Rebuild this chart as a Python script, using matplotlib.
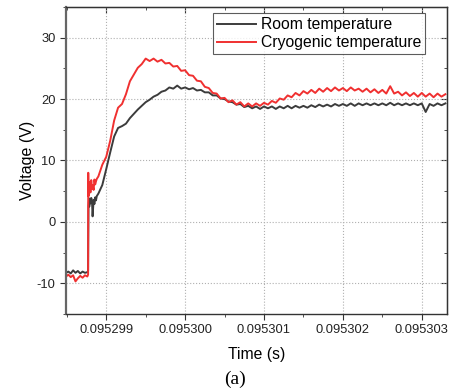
import numpy as np
import matplotlib
matplotlib.use("Agg")
import matplotlib.pyplot as plt
from matplotlib.ticker import MultipleLocator, FormatStrFormatter

# time is given in microseconds after t0 (seconds)
t0 = 0.095298

step_t = [0.49, 0.52, 0.55, 0.58, 0.61, 0.64, 0.67, 0.70, 0.73, 0.76,
          0.770, 0.772, 0.775, 0.780, 0.785, 0.79, 0.80, 0.81, 0.82, 0.827,
          0.84, 0.85, 0.86, 0.87, 0.88]
step_red = [-8.9, -8.6, -9.0, -8.7, -9.7, -9.2, -8.8, -9.1, -8.7, -8.9,
            -8.6, 8.0, 4.2, 6.5, 5.0, 6.3, 4.8, 6.8, 5.4, 6.0,
            5.2, 6.9, 6.1, 6.6, 7.0]
step_black = [-8.3, -8.1, -8.4, -7.9, -8.3, -8.0, -8.4, -8.1, -8.3, -8.2,
              -8.0, -3.0, 2.6, 3.3, 2.5, 3.8, 3.0, 3.9, 3.2, 0.9,
              3.6, 2.9, 4.0, 3.5, 4.2]

main_t = [0.90, 0.95, 1.00, 1.05, 1.10, 1.15, 1.20, 1.25, 1.30, 1.35,
          1.40, 1.45, 1.50, 1.55, 1.60, 1.65, 1.70, 1.75, 1.80, 1.85,
          1.90, 1.95, 2.00, 2.05, 2.10, 2.15, 2.20, 2.25, 2.30, 2.35,
          2.40, 2.45, 2.50, 2.55, 2.60, 2.65, 2.70, 2.75, 2.80, 2.85,
          2.90, 2.95, 3.00, 3.05, 3.10, 3.15, 3.20, 3.25, 3.30, 3.35,
          3.40, 3.45, 3.50, 3.55, 3.60, 3.65, 3.70, 3.75, 3.80, 3.85,
          3.90, 3.95, 4.00, 4.05, 4.10, 4.15, 4.20, 4.25, 4.30, 4.35,
          4.40, 4.45, 4.50, 4.55, 4.60, 4.65, 4.70, 4.75, 4.80, 4.85,
          4.90, 4.95, 5.00, 5.05, 5.10, 5.15, 5.20, 5.25, 5.30]
main_red = [7.4, 9.3, 10.6, 13.2, 16.5, 18.6, 19.2, 20.8, 22.9, 24.0,
            25.1, 25.7, 26.6, 26.2, 26.6, 26.1, 26.4, 25.8, 25.9, 25.3,
            25.4, 24.6, 24.7, 23.9, 23.8, 23.0, 22.9, 22.0, 21.8, 21.0,
            20.9, 20.1, 20.2, 19.5, 19.8, 19.1, 19.5, 18.8, 19.3, 18.8,
            19.3, 18.9, 19.4, 19.1, 19.7, 19.4, 20.1, 19.9, 20.6, 20.3,
            21.0, 20.6, 21.3, 20.9, 21.5, 21.0, 21.7, 21.2, 21.8, 21.3,
            21.9, 21.4, 21.8, 21.3, 21.9, 21.4, 21.7, 21.2, 21.7, 21.1,
            21.6, 21.0, 21.5, 20.9, 22.1, 20.9, 21.2, 20.6, 21.1, 20.5,
            21.0, 20.4, 21.0, 20.4, 20.9, 20.3, 20.9, 20.4, 20.8]
main_black = [4.6, 6.0, 8.6, 11.3, 13.9, 15.3, 15.6, 16.0, 16.9, 17.6,
              18.3, 18.9, 19.5, 19.9, 20.4, 20.7, 21.2, 21.4, 21.9, 21.7,
              22.2, 21.7, 21.9, 21.6, 21.8, 21.4, 21.5, 21.1, 21.1, 20.6,
              20.6, 20.1, 20.0, 19.6, 19.5, 19.1, 19.2, 18.7, 18.9, 18.5,
              18.8, 18.4, 18.8, 18.5, 18.8, 18.4, 18.8, 18.5, 18.9, 18.5,
              18.9, 18.6, 18.9, 18.6, 19.0, 18.7, 19.1, 18.8, 19.1, 18.8,
              19.2, 18.9, 19.2, 18.9, 19.3, 18.9, 19.3, 19.0, 19.3, 19.0,
              19.3, 19.0, 19.3, 19.0, 19.4, 19.0, 19.3, 19.0, 19.3, 19.0,
              19.3, 19.0, 19.3, 17.9, 19.2, 18.9, 19.3, 19.0, 19.3]

t_room = t0 + np.array(step_t + main_t) * 1e-6
v_room = np.array(step_black + main_black)
t_cryo = t0 + np.array(step_t + main_t) * 1e-6
v_cryo = np.array(step_red + main_red)

plt.rcParams['font.family'] = ['Liberation Sans', 'DejaVu Sans']
plt.rcParams['axes.unicode_minus'] = False

fig = plt.figure(figsize=(4.5, 3.9), dpi=100)
ax = fig.add_axes([0.1467, 0.195, 0.8466, 0.787])

ax.plot(t_room, v_room, color='#3c3c3c', lw=1.4, label='Room temperature')
ax.plot(t_cryo, v_cryo, color='#f03030', lw=1.4, label='Cryogenic temperature')

ax.set_xlim(0.09529849, 0.09530332)
ax.set_ylim(-15, 35)
ax.xaxis.set_major_locator(MultipleLocator(1e-6))
ax.xaxis.set_minor_locator(MultipleLocator(5e-7))
ax.xaxis.set_major_formatter(FormatStrFormatter('%.6f'))
ax.yaxis.set_major_locator(MultipleLocator(10))
ax.yaxis.set_minor_locator(MultipleLocator(5))
ax.tick_params(which='both', direction='out', labelsize=9.3, color='#333333',
               labelcolor='#222222')
ax.tick_params(which='major', length=4)
ax.tick_params(which='minor', length=2.5)
ax.grid(True, which='major', ls=':', color='#b0b0b0', lw=0.8)
for s in ax.spines.values():
    s.set_color('#333333')
    s.set_linewidth(1.0)
ax.spines['left'].set_color('#666666')
ax.spines['left'].set_linewidth(1.6)

top = ax.secondary_xaxis('top')
top.xaxis.set_major_locator(MultipleLocator(1e-6))
top.xaxis.set_minor_locator(MultipleLocator(5e-7))
top.tick_params(which='both', direction='in', labeltop=False, color='#333333')
top.tick_params(which='major', length=4)
top.tick_params(which='minor', length=2.5)
right = ax.secondary_yaxis('right')
right.yaxis.set_major_locator(MultipleLocator(10))
right.yaxis.set_minor_locator(MultipleLocator(5))
right.tick_params(which='both', direction='in', labelright=False, color='#333333')
right.tick_params(which='major', length=4)
right.tick_params(which='minor', length=2.5)

ax.set_xlabel('Time (s)', fontsize=11.3, labelpad=8)
ax.set_ylabel('Voltage (V)', fontsize=11.5, labelpad=1)

leg = ax.legend(loc='upper right', bbox_to_anchor=(0.9435, 0.98), fontsize=11.3,
                frameon=True, fancybox=False, edgecolor='#333333',
                handlelength=2.5, handletextpad=0.3, borderpad=0.25,
                labelspacing=0.2, borderaxespad=0.0)
leg.get_frame().set_linewidth(0.8)

fig.text(0.522, 0.028, '(a)', fontsize=14, family='Liberation Serif',
         ha='center', va='center')

fig.savefig('out.png', dpi=100)
